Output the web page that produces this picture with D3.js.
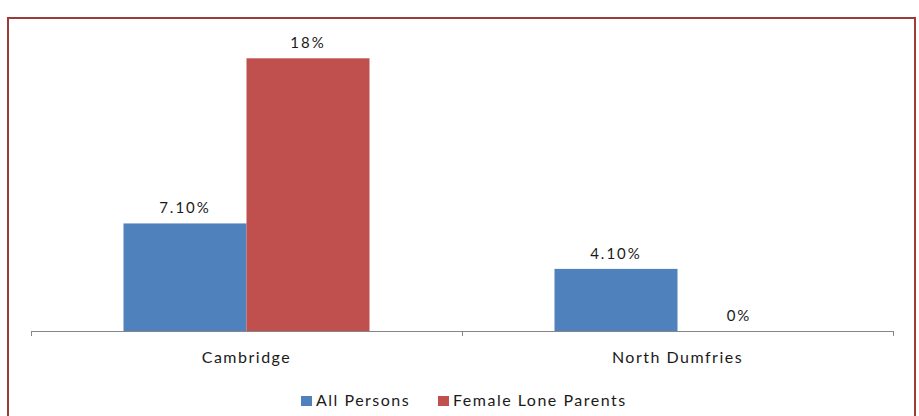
<!DOCTYPE html>
<html>
<head>
<meta charset="utf-8">
<script src="https://cdnjs.cloudflare.com/ajax/libs/d3/7.8.5/d3.min.js"></script>
<style>
  body { margin: 0; background: #fff; }
  text { font-family: Lato, "Open Sans", sans-serif; fill: #1a1a1a; }
</style>
</head>
<body>
<svg id="chart"></svg>
<script>
var categories = ["Cambridge", "North Dumfries"]
var series = ["All Persons", "Female Lone Parents"]
var allPersons = [7.1, 4.1]
var femaleLoneParents = [18, 0]
var valueLabels = [["7.10%", "18%"], ["4.10%", "0%"]]
var colors = ["#4f81bd", "#c0504d"]

var width = 919
var height = 416

var svg = d3.select("#chart")
    .attr("width", width)
    .attr("height", height)

// outer frame
svg.append("rect")
    .attr("x", 8)
    .attr("y", 18)
    .attr("width", 907)
    .attr("height", 410)
    .attr("fill", "none")
    .attr("stroke", "#9b3c38")
    .attr("stroke-width", 2)

var x0 = d3.scaleBand()
    .domain(categories)
    .range([31, 893])
    .padding(0)

var x1 = d3.scaleBand()
    .domain(series)
    .range([0, x0.bandwidth()])
    .paddingInner(0)
    .paddingOuter(0.752)

var y = d3.scaleLinear()
    .domain([0, 20])
    .range([331, 28])

var data = categories.map(function(c, i) {
    return {cat: c, vals: [allPersons[i], femaleLoneParents[i]], labels: valueLabels[i]}
})

var groups = svg.selectAll("g.group")
    .data(data)
    .enter()
    .append("g")
    .attr("class", "group")
    .attr("transform", function(d) { return "translate(" + x0(d.cat) + ",0)" })

groups.selectAll("rect")
    .data(function(d) { return d.vals.map(function(v, j) { return {s: series[j], v: v, j: j, label: d.labels[j]} }) })
    .enter()
    .append("rect")
    .attr("x", function(d) { return x1(d.s) })
    .attr("y", function(d) { return y(d.v) })
    .attr("width", x1.bandwidth())
    .attr("height", function(d) { return y(0) - y(d.v) })
    .attr("fill", function(d) { return colors[d.j] })

groups.selectAll("text.val")
    .data(function(d) { return d.vals.map(function(v, j) { return {s: series[j], v: v, label: d.labels[j]} }) })
    .enter()
    .append("text")
    .attr("class", "val")
    .attr("x", function(d) { return x1(d.s) + x1.bandwidth() / 2 })
    .attr("y", function(d) { return y(d.v) - 10 })
    .attr("text-anchor", "middle")
    .style("font-size", "15px")
    .style("letter-spacing", "2px")
    .text(function(d) { return d.label })

// category axis
var axis = svg.append("g")
    .attr("transform", "translate(0," + y(0) + ")")
    .call(d3.axisBottom(x0).tickSize(0).tickSizeOuter(0).tickPadding(21))

axis.select(".domain").attr("stroke", "#868686")
axis.selectAll(".tick text")
    .style("font-size", "16px")
    .style("letter-spacing", "1.5px")
    .style("font-family", "Lato, 'Open Sans', sans-serif")
    .attr("fill", "#1a1a1a")

var edges = categories.map(function(c) { return x0(c) }).concat([x0.range()[1]])
axis.selectAll("line.sep")
    .data(edges)
    .enter()
    .append("line")
    .attr("class", "sep")
    .attr("x1", function(d) { return d + 0.5 })
    .attr("x2", function(d) { return d + 0.5 })
    .attr("y1", 0)
    .attr("y2", 5)
    .attr("stroke", "#868686")

// legend
var legendX = [301, 438]
var legend = svg.selectAll("g.legend")
    .data(series)
    .enter()
    .append("g")
    .attr("class", "legend")
    .attr("transform", function(d, i) { return "translate(" + legendX[i] + ",400)" })

legend.append("rect")
    .attr("x", 0)
    .attr("y", -4)
    .attr("width", 11)
    .attr("height", 10)
    .attr("fill", function(d, i) { return colors[i] })

legend.append("text")
    .attr("x", 15)
    .attr("y", 6)
    .style("font-size", "16px")
    .style("letter-spacing", "1.5px")
    .text(function(d) { return d })
</script>
</body>
</html>
